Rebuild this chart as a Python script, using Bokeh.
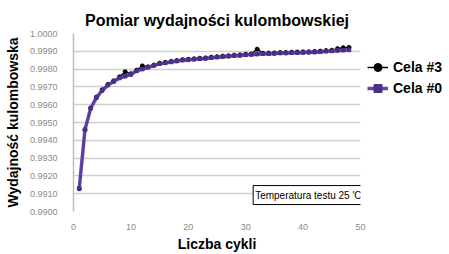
from bokeh.plotting import figure
from bokeh.models import Legend, LegendItem, Label, FixedTicker, Range1d
from bokeh.embed import file_html
from bokeh.resources import INLINE

cycles = list(range(1, 49))
cela0 = [0.99130, 0.99460, 0.99580, 0.99640, 0.99680, 0.99710, 0.99730, 0.99750,
         0.99760, 0.99770, 0.99790, 0.99800, 0.99810, 0.99820, 0.99830, 0.99835,
         0.99840, 0.99845, 0.99850, 0.99852, 0.99855, 0.99858, 0.99860, 0.99864,
         0.99867, 0.99870, 0.99872, 0.99875, 0.99877, 0.99880, 0.99882, 0.99884,
         0.99886, 0.99886, 0.99888, 0.99890, 0.99890, 0.99892, 0.99892, 0.99893,
         0.99894, 0.99895, 0.99897, 0.99900, 0.99902, 0.99905, 0.99906, 0.99908]
cela3 = [0.99128, 0.99458, 0.99582, 0.99643, 0.99684, 0.99714, 0.99734, 0.99756,
         0.99785, 0.99774, 0.99794, 0.99818, 0.99813, 0.99823, 0.99833, 0.99838,
         0.99843, 0.99848, 0.99853, 0.99855, 0.99858, 0.99861, 0.99863, 0.99867,
         0.99870, 0.99873, 0.99875, 0.99878, 0.99880, 0.99883, 0.99885, 0.99912,
         0.99889, 0.99890, 0.99891, 0.99893, 0.99893, 0.99895, 0.99896, 0.99897,
         0.99897, 0.99899, 0.99901, 0.99904, 0.99906, 0.99915, 0.99920, 0.99922]
y_ticks = [0.9900, 0.9910, 0.9920, 0.9930, 0.9940, 0.9950, 0.9960, 0.9970, 0.9980, 0.9990, 1.0000]
x_ticks = [0, 10, 20, 30, 40, 50]

FONT = "Liberation Sans"

p = figure(frame_width=287, frame_height=178, output_backend="svg", toolbar_location=None,
           x_range=Range1d(0, 50), y_range=Range1d(0.9900, 1.0000),
           min_border_left=73, min_border_right=0, min_border_top=33, min_border_bottom=43)
p.outline_line_color = None
p.background_fill_color = "white"
p.border_fill_color = "white"

p.title.text = "Pomiar wydajności kulombowskiej"
p.title.text_font = FONT
p.title.text_font_size = "16px"
p.title.text_font_style = "bold"
p.title.text_color = "black"
p.title.align = "center"
p.title.offset = -4

p.yaxis.ticker = FixedTicker(ticks=y_ticks)
p.xaxis.ticker = FixedTicker(ticks=x_ticks)
p.yaxis.major_label_overrides = {t: f"{t:.4f}" for t in y_ticks}
for ax in (p.xaxis, p.yaxis):
    ax.major_tick_line_color = None
    ax.minor_tick_line_color = None
    ax.major_label_text_font = FONT
    ax.major_label_text_font_size = "9px"
    ax.major_label_text_color = "#8a8a8a"
    ax.axis_label_text_font = FONT
    ax.axis_label_text_font_size = "14px"
    ax.axis_label_text_font_style = "bold"
    ax.axis_label_text_color = "black"
p.yaxis.axis_line_color = "#bdbdbd"
p.yaxis.axis_line_width = 1.5
p.xaxis.axis_line_color = None
p.yaxis.major_label_standoff = 10
p.xaxis.major_label_standoff = 6
p.yaxis.axis_label = "Wydajność kulombowska"
p.xaxis.axis_label = "Liczba cykli"
p.yaxis.axis_label_standoff = 6
p.xaxis.axis_label_standoff = 3

p.xgrid.grid_line_color = None
p.ygrid.grid_line_color = "#cfcfcf"
p.ygrid.grid_line_width = 1.5

purple = "#5b3f9f"
l3 = p.line(cycles, cela3, line_color="black", line_width=1.5)
m3 = p.scatter(cycles, cela3, size=4, fill_color="black", line_color="black")
l0 = p.line(cycles, cela0, line_color=purple, line_width=3.5, line_alpha=0.95)
m0 = p.scatter(cycles, cela0, size=3.5, marker="square", fill_color="#4a3088", line_color="#4a3088")

legend = Legend(items=[LegendItem(label="Cela #3", renderers=[l3, m3]),
                       LegendItem(label="Cela #0", renderers=[l0, m0])],
                location=(7, 113), border_line_color=None, background_fill_alpha=0,
                label_text_font=FONT, label_text_font_size="14px", label_text_font_style="bold",
                label_text_color="black",
                glyph_width=21, label_standoff=5, spacing=1, padding=2, margin=0)
p.add_layout(legend, "right")

note = Label(x=31.3, y=0.99039, text="Temperatura testu 25 'C", text_font=FONT,
             text_font_size="10px", text_color="black", border_line_color="black",
             border_line_width=1, background_fill_color="white", padding=(2, 4))
p.add_layout(note)

open("out.html", "w").write(file_html(p, INLINE))
